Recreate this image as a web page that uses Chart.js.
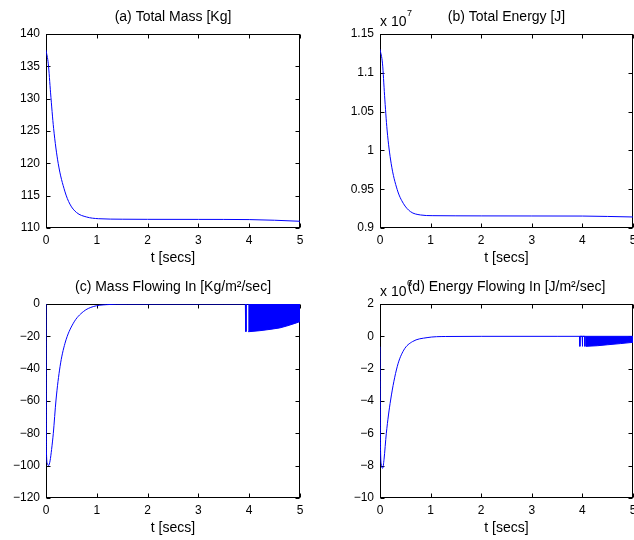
<!DOCTYPE html>
<html><head><meta charset="utf-8">
<script src="https://cdn.jsdelivr.net/npm/chart.js@4.4.0/dist/chart.umd.min.js"></script>
<style>
html,body{margin:0;padding:0;overflow:hidden;background:#fff;width:634px;height:540px;}
canvas{position:absolute;}
</style></head><body>
<canvas id="ca" width="317" height="270" style="left:0;top:0;width:317px;height:270px"></canvas>
<canvas id="cb" width="340" height="270" style="left:317px;top:0;width:340px;height:270px"></canvas>
<canvas id="cc" width="317" height="270" style="left:0;top:270px;width:317px;height:270px"></canvas>
<canvas id="cd" width="340" height="270" style="left:317px;top:270px;width:340px;height:270px"></canvas>
<script>
// ---- data ----
const titles = ['(a) Total Mass [Kg]', '(b) Total Energy [J]', '(c) Mass Flowing In [Kg/m\u00B2/sec]', '(d) Energy Flowing In [J/m\u00B2/sec]'];
const xLabel = 't [secs]';
const exponents = [null, '7', null, '6'];
const yRanges = [[110, 140, 5], [0.9, 1.15, 0.05], [-120, 0, 20], [-10, 2, 2]];

const timeA = [0, 0.045, 0.09, 0.15, 0.24, 0.37, 0.47, 0.6, 0.8, 1.03, 1.5, 2, 3, 4, 4.5, 5];
const totalMass = [137.5, 135.4, 130.9, 125.4, 120.0, 115.7, 113.7, 112.4, 111.7, 111.44, 111.36, 111.34, 111.33, 111.3, 111.2, 111.04];

const timeB = [0, 0.05, 0.09, 0.14, 0.22, 0.34, 0.46, 0.6, 0.8, 1.03, 1.5, 2, 3, 4, 4.5, 5];
const totalEnergy = [1.1303, 1.1115, 1.0710, 1.0263, 0.9834, 0.9495, 0.9318, 0.9212, 0.9168, 0.9159, 0.9157, 0.9156, 0.9155, 0.9154, 0.9149, 0.9142];

const timeC = [0, 0.008, 0.025, 0.05, 0.08, 0.11, 0.144, 0.197, 0.276, 0.374, 0.538, 0.735, 0.93, 1.19, 1.6, 2.5, 3.5, 5];
const massFlow = [0, -90, -98.5, -100, -97, -90, -80, -59.4, -38.8, -24.3, -11.9, -4.7, -1.6, -0.4, -0.05, 0, 0, 0];
const spikeTimeC = [3.925, 3.93, 3.94, 3.945];
const spikeMassFlow = [0, -17, -17, 0];
const burstTimeC = [3.98, 4.0, 4.21, 4.41, 4.6, 4.74, 4.9, 5.0];
const burstMassFlow = [-17.1, -17.1, -16.5, -15.7, -14.8, -13.6, -12.0, -10.9];

const timeD = [0, 0.008, 0.025, 0.053, 0.08, 0.125, 0.21, 0.34, 0.47, 0.64, 0.93, 1.3, 2, 3.5, 5];
const energyFlow = [-0.64, -6.5, -7.9, -8.16, -7.6, -6.0, -3.94, -1.88, -0.85, -0.33, -0.08, -0.01, 0, 0, 0];
const spikeTimeD = [3.945, 3.95, 3.955, 3.995, 4.0, 4.005, 4.045, 4.05, 4.055];
const spikeEnergyFlow = [0, -0.62, 0, 0, -0.62, 0, 0, -0.62, 0];
const burstTimeD = [4.07, 4.3, 4.5, 4.75, 5.0];
const burstEnergyFlow = [-0.62, -0.58, -0.52, -0.45, -0.37];

// ---- rendering ----
const FONT = '"Liberation Sans", Arial, Helvetica, sans-serif';
const tickFont = {family: FONT, size: 12};
const labelFont = {family: FONT, size: 14};
const BLUE = '#0000ff';

function xy(ts, vs) { return ts.map((t, i) => ({x: t, y: vs[i]})); }
function curve(ts, vs) {
  return {data: xy(ts, vs), borderColor: BLUE, borderWidth: 1, pointRadius: 0, fill: false,
          cubicInterpolationMode: 'monotone', xAxisID: 'x', yAxisID: 'y'};
}
function straight(ts, vs) {
  return {data: xy(ts, vs), borderColor: BLUE, borderWidth: 1, pointRadius: 0, fill: false,
          tension: 0, xAxisID: 'x', yAxisID: 'y'};
}
function filled(ts, vs) {
  return {data: xy(ts, vs), borderColor: BLUE, backgroundColor: BLUE, borderWidth: 1, pointRadius: 0,
          fill: 'origin', tension: 0, xAxisID: 'x', yAxisID: 'y'};
}

const boxPlugin = {
  id: 'matlabBox',
  beforeDatasetsDraw(chart) {
    const {ctx, chartArea: a, scales} = chart;
    ctx.save();
    ctx.strokeStyle = '#000';
    ctx.lineWidth = 1;
    const L = Math.round(a.left) + 0.5, R = Math.round(a.right) - 0.5;
    const T = Math.round(a.top) + 0.5, B = Math.round(a.bottom) - 0.5;
    ctx.strokeRect(L, T, R - L, B - T);
    const len = 4;
    ctx.beginPath();
    scales.x.ticks.forEach(tk => {
      const px = Math.round(scales.x.getPixelForValue(tk.value)) + 0.5;
      ctx.moveTo(px, B); ctx.lineTo(px, B - len);
      ctx.moveTo(px, T); ctx.lineTo(px, T + len);
    });
    scales.y.ticks.forEach(tk => {
      const py = Math.round(scales.y.getPixelForValue(tk.value)) + 0.5;
      ctx.moveTo(L, py); ctx.lineTo(L + len, py);
      ctx.moveTo(R, py); ctx.lineTo(R - len, py);
    });
    ctx.stroke();
    ctx.restore();
  },
  afterDraw(chart) {
    const exp = chart.options.plugins.matlabBox && chart.options.plugins.matlabBox.exponent;
    if (!exp) return;
    const {ctx, chartArea: a} = chart;
    ctx.save();
    ctx.fillStyle = '#000';
    ctx.textBaseline = 'alphabetic';
    ctx.textAlign = 'left';
    ctx.font = '14px ' + FONT;
    ctx.fillText('x 10', a.left, 26);
    ctx.font = '9px ' + FONT;
    ctx.fillText(exp, a.left + 27, 16);
    ctx.restore();
  }
};

function fmt(v) {
  const s = String(Math.round(v * 1000) / 1000);
  return s.replace('-', '\u2212');
}

function build(id, idx, yWidth, padRight, datasets) {
  const [ymin, ymax, ystep] = yRanges[idx];
  return new Chart(document.getElementById(id), {
    type: 'line',
    data: {datasets},
    options: {
      responsive: false, animation: false, devicePixelRatio: 1,
      layout: {padding: {left: 0, right: padRight, top: 0, bottom: 0}},
      plugins: {legend: {display: false}, tooltip: {enabled: false}, title: {display: false},
                matlabBox: {exponent: exponents[idx]}},
      scales: {
        x: {type: 'linear', position: 'bottom', min: 0, max: 5,
            ticks: {stepSize: 1, font: tickFont, color: '#000', padding: 5, maxRotation: 0, autoSkip: false},
            grid: {display: false, drawTicks: false}, border: {display: false},
            title: {display: true, text: xLabel, font: labelFont, color: '#000', padding: {top: 0, bottom: 3}},
            afterFit(s) { s.height = 42; }},
        xTop: {type: 'linear', position: 'top', min: 0, max: 5,
            ticks: {display: false}, grid: {display: false, drawTicks: false}, border: {display: false},
            title: {display: true, text: titles[idx], font: labelFont, color: '#000', padding: {top: 9, bottom: 0}},
            afterFit(s) { s.height = 34; }},
        y: {type: 'linear', position: 'left', min: ymin, max: ymax,
            ticks: {stepSize: ystep, font: tickFont, color: '#000', padding: 6, autoSkip: false, callback: fmt},
            grid: {display: false, drawTicks: false}, border: {display: false},
            afterFit(s) { s.width = yWidth; }}
      }
    },
    plugins: [boxPlugin]
  });
}

build('ca', 0, 46, 17, [curve(timeA, totalMass)]);
build('cb', 1, 63, 24, [curve(timeB, totalEnergy)]);
build('cc', 2, 46, 17, [filled(burstTimeC, burstMassFlow), curve(timeC, massFlow), straight(spikeTimeC, spikeMassFlow)]);
build('cd', 3, 63, 24, [filled(burstTimeD, burstEnergyFlow), curve(timeD, energyFlow), straight(spikeTimeD, spikeEnergyFlow)]);
</script>
</body></html>
